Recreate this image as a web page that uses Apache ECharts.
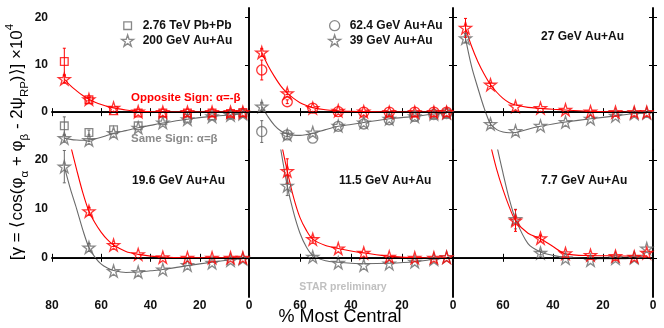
<!DOCTYPE html>
<html><head><meta charset="utf-8">
<script src="https://cdn.jsdelivr.net/npm/echarts@6/dist/echarts.min.js"></script>
<style>html,body{margin:0;padding:0;background:#fff}#c{width:664px;height:328px}</style>
</head><body><div id="c"></div>
<script>
// ---------------- data ----------------
const centrality = [75, 65, 55, 45, 35, 25, 15, 7.5, 2.5];
const xTickValues = [0, 20, 40, 60, 80];
const yTickValues = [0, 10, 20];
// panel 1: 200 GeV Au+Au (stars) and 2.76 TeV Pb+Pb (squares)
const os200 = [7.0, 2.7, 0.9, 0.1, 0.0, 0.0, 0.0, 0.0, 0.0];
const os200Err = [0.7, 0.3, 0, 0, 0, 0, 0, 0, 0];
const ss200 = [-5.5, -5.9, -4.4, -3.3, -2.2, -1.5, -0.9, -0.6, -0.35];
const ss200Err = [0.6, 0.3, 0, 0, 0, 0, 0, 0, 0];
const osLHC = [10.7, 2.6, 0.3, -0.2, -0.2, -0.2, -0.2, -0.3, -0.1];
const osLHCErr = [2.8, 0.5, 0, 0, 0, 0, 0, 0, 0];
const ssLHC = [-2.9, -4.3, -3.7, -2.9, -1.8, -1.3, -0.8, -0.5, -0.3];
const ssLHCErr = [1.9, 0.5, 0, 0, 0, 0, 0, 0, 0];
// panel 2: 39 GeV (stars) and 62.4 GeV (circles)
const os39 = [12.6, 4.0, 0.85, 0.3, 0.1, 0.0, 0.0, 0.0, 0.0];
const os39Err = [0.8, 0.3, 0, 0, 0, 0, 0, 0, 0];
const ss39 = [1.2, -4.8, -4.3, -2.9, -2.2, -1.4, -0.9, -0.4, -0.2];
const ss39Err = [0.8, 0.3, 0, 0, 0, 0, 0, 0, 0];
const os62 = [8.9, 2.2, 0.85, 0.1, 0.0, 0.0, 0.0, 0.0, 0.0];
const os62Err = [2.1, 0.4, 0, 0, 0, 0, 0, 0, 0];
const ss62 = [-4.1, -4.8, -5.5, -3.0, -2.5, -1.6, -0.9, -0.5, -0.3];
const ss62Err = [2.3, 0.4, 0, 0, 0, 0, 0, 0, 0];
// panel 3: 27 GeV
const os27 = [17.8, 5.8, 1.2, 0.85, 0.5, 0.1, 0.0, 0.0, 0.0];
const os27Err = [2.0, 0.4, 0, 0, 0, 0, 0, 0, 0];
const ss27 = [15.6, -2.5, -4.0, -2.9, -2.1, -1.4, -0.8, -0.3, -0.2];
const ss27Err = [1.0, 0.3, 0, 0, 0, 0, 0, 0, 0];
// panel 4: 19.6 GeV (first opposite-sign point is above the frame)
const os19 = [27, 9.5, 2.6, 0.7, 0.1, 0.0, 0.0, 0.0, 0.0];
const os19Err = [0, 0.8, 0.3, 0, 0, 0, 0, 0, 0];
const ss19 = [18.6, 2.1, -2.7, -2.9, -2.4, -1.5, -1.0, -0.5, -0.2];
const ss19Err = [3.3, 0.8, 0, 0, 0, 0, 0, 0, 0];
// panel 5: 11.5 GeV (first points above the frame)
const os11 = [43, 17.7, 3.8, 1.9, 1.0, 0.2, 0.0, 0.0, 0.1];
const os11Err = [0, 2.5, 0.4, 0, 0, 0, 0, 0, 0];
const ss11 = [44, 14.7, 0.2, -1.0, -1.5, -1.2, -0.8, -0.3, 0.1];
const ss11Err = [0, 2.0, 0.4, 0, 0, 0, 0, 0, 0];
// panel 6: 7.7 GeV (first points above the frame)
const os7 = [60, 24, 7.6, 4.0, 0.9, 0.55, 0.35, 0.2, 1.0];
const os7Err = [0, 0, 2.2, 0.6, 0, 0, 0, 0, 0];
const ss7 = [90, 32, 7.9, 1.0, -0.1, -0.5, -0.1, 0.0, 1.9];
const ss7Err = [0, 0, 2.0, 0.4, 0, 0, 0, 0, 0];

// fitted curves at these centralities
const fitCentrality = [75, 72.5, 70, 67.5, 65, 62.5, 60, 57.5, 55, 50, 45, 40, 35, 25, 15, 7.5, 2.5];
const fit200os = [7.0, 5.6, 4.5, 3.5, 2.7, 2.1, 1.6, 1.2, 0.9, 0.45, 0.2, 0.1, 0.05, 0, 0, 0, 0];
const fit200ss = [-5.5, -5.75, -5.9, -5.95, -5.9, -5.65, -5.3, -4.9, -4.5, -3.9, -3.3, -2.8, -2.3, -1.5, -0.9, -0.6, -0.35];
const fit39os = [12.6, 9.8, 7.5, 5.5, 4.0, 2.9, 2.0, 1.4, 0.95, 0.5, 0.3, 0.18, 0.1, 0.03, 0, 0, 0];
const fit39ss = [1.2, -1.0, -2.8, -4.0, -4.6, -4.85, -4.9, -4.75, -4.5, -3.7, -3.0, -2.6, -2.2, -1.4, -0.9, -0.4, -0.2];
const fit27os = [17.8, 13.8, 10.6, 8.0, 5.8, 4.2, 2.9, 2.0, 1.5, 1.0, 0.8, 0.6, 0.45, 0.15, 0.05, 0, 0];
const fit27ss = [15.6, 9.5, 5.0, 0.8, -2.5, -3.7, -4.2, -4.35, -4.3, -3.6, -3.0, -2.5, -2.1, -1.4, -0.8, -0.3, -0.2];
const fit19os = [28, 23, 18, 13.3, 9.5, 7.1, 5.2, 3.7, 2.6, 1.3, 0.7, 0.35, 0.15, 0.02, 0, 0, 0];
const fit19ss = [18.6, 14.0, 10.0, 5.7, 2.1, 0.1, -1.3, -2.1, -2.6, -3.0, -2.9, -2.65, -2.4, -1.6, -0.9, -0.4, -0.2];
const fit11os = [50, 40, 32, 24, 17.7, 12.3, 8.2, 5.6, 3.8, 2.5, 1.9, 1.4, 1.0, 0.3, 0.05, 0, 0];
const fit11ss = [46, 38, 30, 22, 14.7, 9.2, 5.0, 2.2, 0.5, -0.6, -0.9, -1.1, -1.2, -1.1, -0.8, -0.3, 0.0];
const fit7os = [60, 45, 35, 28, 23, 18, 13.9, 10.4, 7.6, 5.0, 3.9, 2.3, 0.8, 0.45, 0.4, 0.35, 0.4];
const fit7ss = [95, 70, 52, 40, 30, 23, 17.3, 12.0, 7.9, 2.9, 1.2, 0.5, 0.1, -0.2, -0.2, -0.1, 0.0];

// --------------- style ----------------
const FONT = 'Liberation Sans, Arial, Helvetica, sans-serif';
const RED = '#ff0000', GRAY = '#6a6a6a', BLACK = '#000';
const STAR = 'path://M100,0L122.5,69.1L195.1,69.1L136.3,111.8L158.8,180.9L100,138.2L41.2,180.9L63.7,111.8L4.9,69.1L77.5,69.1Z';
const SQUARE = 'path://M0,0M100,100M18,18L82,18L82,82L18,82Z';
const CIRCLE = 'path://M0,0M100,100M92,50A42,42,0,1,1,8,50A42,42,0,1,1,92,50Z';

const grids = [
  {left: 52, top: 8, width: 197, height: 142},
  {left: 249, top: 8, width: 204, height: 142},
  {left: 453, top: 8, width: 200, height: 142},
  {left: 52, top: 150, width: 197, height: 147},
  {left: 249, top: 150, width: 204, height: 147},
  {left: 453, top: 150, width: 200, height: 147}
];

const xAxes = [], yAxes = [];
grids.forEach((g, i) => {
  const bottomRow = i >= 3, leftCol = i % 3 === 0;
  const line = {show: true, lineStyle: {color: BLACK, width: 1.6}};
  xAxes.push({
    type: 'value', gridIndex: i, position: 'bottom', min: 0, max: 80, interval: 20, inverse: true,
    axisLine: line, splitLine: {show: false},
    axisTick: {show: true, inside: true, length: 4, lineStyle: {color: BLACK, width: 1}},
    axisLabel: {show: bottomRow, margin: 3, color: '#111', fontFamily: FONT, fontWeight: 'bold', fontSize: 12,
      formatter: v => (v === 80 && !leftCol) ? '' : String(v)}
  });
  xAxes.push({
    type: 'value', gridIndex: i, position: 'top', min: 0, max: 80, interval: 20, inverse: true,
    axisLine: line, splitLine: {show: false},
    axisTick: {show: true, inside: true, length: 4, lineStyle: {color: BLACK, width: 1}},
    axisLabel: {show: false}
  });
  yAxes.push({
    type: 'value', gridIndex: i, position: 'left', min: -8, max: 22,
    axisLine: line, splitLine: {show: false},
    axisTick: {show: true, inside: !leftCol, length: 4, customValues: yTickValues, lineStyle: {color: BLACK, width: 1}},
    axisLabel: {show: leftCol, customValues: yTickValues, margin: 4, color: '#111', fontFamily: FONT, fontWeight: 'bold', fontSize: 12}
  });
  yAxes.push({
    type: 'value', gridIndex: i, position: 'right', min: -8, max: 22,
    axisLine: line, splitLine: {show: false},
    axisTick: {show: true, inside: true, length: 4, customValues: yTickValues, lineStyle: {color: BLACK, width: 1}},
    axisLabel: {show: false}
  });
});

const series = [];
function pairs(xs, vals) { return xs.map((c, k) => [c, vals[k]]); }
function addCurve(p, vals, color, withZero) {
  const s = {
    type: 'line', xAxisIndex: 2 * p, yAxisIndex: 2 * p, data: pairs(fitCentrality, vals),
    smooth: 0.3,
    showSymbol: false, symbol: 'none', silent: true, z: 2,
    lineStyle: {color: color, width: 1.1}
  };
  if (withZero) {
    s.markLine = {silent: true, symbol: 'none', label: {show: false}, animation: false,
      lineStyle: {color: BLACK, width: 1.2, type: 'solid'}, data: [{yAxis: 0}]};
  }
  series.push(s);
}
function addMarks(p, name, vals, errs, color, sym, size) {
  const errData = centrality.map((c, k) => [c, vals[k], errs[k]]).filter(d => d[2] > 0);
  series.push({
    type: 'custom', xAxisIndex: 2 * p, yAxisIndex: 2 * p, data: errData, silent: true, z: 3,
    renderItem: (params, api) => {
      const x = api.value(0), y = api.value(1), e = api.value(2);
      const a = api.coord([x, y + e]), b = api.coord([x, y - e]);
      const st = {stroke: color, lineWidth: 1};
      return {type: 'group', children: [
        {type: 'line', shape: {x1: a[0], y1: a[1], x2: b[0], y2: b[1]}, style: st},
        {type: 'line', shape: {x1: a[0] - 1.5, y1: a[1], x2: a[0] + 1.5, y2: a[1]}, style: st},
        {type: 'line', shape: {x1: b[0] - 1.5, y1: b[1], x2: b[0] + 1.5, y2: b[1]}, style: st}
      ]};
    }
  });
  series.push({
    type: 'scatter', name: name, xAxisIndex: 2 * p, yAxisIndex: 2 * p, data: pairs(centrality, vals),
    symbol: sym, symbolSize: size, z: 4, clip: true,
    itemStyle: {color: 'rgba(0,0,0,0)', borderColor: color, borderWidth: 1.3}
  });
}

// panel 1
addCurve(0, fit200ss, GRAY, true); addCurve(0, fit200os, RED, false);
addMarks(0, '2.76 TeV Pb+Pb', ssLHC, ssLHCErr, GRAY, SQUARE, [12, 12]);
addMarks(0, '2.76 TeV Pb+Pb', osLHC, osLHCErr, RED, SQUARE, [12, 12]);
addMarks(0, '200 GeV Au+Au', ss200, ss200Err, GRAY, STAR, [12, 12]);
addMarks(0, '200 GeV Au+Au', os200, os200Err, RED, STAR, [12, 12]);
// panel 2
addCurve(1, fit39ss, GRAY, true); addCurve(1, fit39os, RED, false);
addMarks(1, '62.4 GeV Au+Au', ss62, ss62Err, GRAY, CIRCLE, [12, 12]);
addMarks(1, '62.4 GeV Au+Au', os62, os62Err, RED, CIRCLE, [12, 12]);
addMarks(1, '39 GeV Au+Au', ss39, ss39Err, GRAY, STAR, [12, 12]);
addMarks(1, '39 GeV Au+Au', os39, os39Err, RED, STAR, [12, 12]);
// panel 3
addCurve(2, fit27ss, GRAY, true); addCurve(2, fit27os, RED, false);
addMarks(2, '27 GeV Au+Au', ss27, ss27Err, GRAY, STAR, [12, 12]);
addMarks(2, '27 GeV Au+Au', os27, os27Err, RED, STAR, [12, 12]);
// panel 4
addCurve(3, fit19ss, GRAY, true); addCurve(3, fit19os, RED, false);
addMarks(3, '19.6 GeV Au+Au', ss19, ss19Err, GRAY, STAR, [12, 12]);
addMarks(3, '19.6 GeV Au+Au', os19, os19Err, RED, STAR, [12, 12]);
// panel 5
addCurve(4, fit11ss, GRAY, true); addCurve(4, fit11os, RED, false);
addMarks(4, '11.5 GeV Au+Au', ss11, ss11Err, GRAY, STAR, [12, 12]);
addMarks(4, '11.5 GeV Au+Au', os11, os11Err, RED, STAR, [12, 12]);
// panel 6
addCurve(5, fit7ss, GRAY, true); addCurve(5, fit7os, RED, false);
addMarks(5, '7.7 GeV Au+Au', ss7, ss7Err, GRAY, STAR, [12, 12]);
addMarks(5, '7.7 GeV Au+Au', os7, os7Err, RED, STAR, [12, 12]);

const legendText = {fontFamily: FONT, fontWeight: 'bold', fontSize: 12, color: '#111', padding: [0, 0, 0, 4]};
const hollowGray = {color: 'rgba(0,0,0,0)', borderColor: GRAY, borderWidth: 1.3};
function legendAt(left, top, items) {
  return {orient: 'vertical', left: left, top: top, padding: 0, itemWidth: 12, itemHeight: 12, itemGap: 2,
    selectedMode: false, textStyle: legendText,
    data: items.map(it => ({name: it[0], icon: it[1], itemStyle: hollowGray}))};
}

function label(x, y, text, color, size, align) {
  return {type: 'text', x: x, y: y, silent: true, z: 10,
    style: {text: text, fill: color, font: 'bold ' + size + 'px ' + FONT, align: align || 'left', verticalAlign: 'middle'}};
}

const option = {
  animation: false,
  backgroundColor: '#fff',
  grid: grids.map(g => Object.assign({containLabel: false}, g)),
  xAxis: xAxes,
  yAxis: yAxes,
  legend: [
    legendAt(121, 19, [['2.76 TeV Pb+Pb', SQUARE], ['200 GeV Au+Au', STAR]]),
    legendAt(328, 19, [['62.4 GeV Au+Au', CIRCLE], ['39 GeV Au+Au', STAR]])
  ],
  series: series,
  graphic: [
    label(541, 37, '27 GeV Au+Au', '#111', 12),
    label(132, 181, '19.6 GeV Au+Au', '#111', 12),
    label(339, 181, '11.5 GeV Au+Au', '#111', 12),
    label(541, 181, '7.7 GeV Au+Au', '#111', 12),
    label(131, 98, 'Opposite Sign: α=-β', RED, 11.5),
    label(131, 139, 'Same Sign: α=β', '#8a8a8a', 11.5),
    label(343, 287, 'STAR preliminary', '#c0c0c0', 10.5, 'center'),
    {type: 'text', x: 340, y: 317, silent: true,
      style: {text: '% Most Central', fill: '#000', font: '18px ' + FONT, align: 'center', verticalAlign: 'middle'}},
    {type: 'text', x: 17, y: 142, rotation: Math.PI / 2, silent: true,
      style: {
        text: '{m|[γ = ⟨cos(φ}{s|α}{m| + φ}{s|β}{m| - 2ψ}{s|RP}{m|)⟩] ×10}{p|4}',
        align: 'center', verticalAlign: 'middle',
        rich: {
          m: {fontFamily: FONT, fontSize: 17, lineHeight: 27, verticalAlign: 'middle', fill: '#000'},
          s: {fontFamily: FONT, fontSize: 11.5, lineHeight: 11, verticalAlign: 'bottom', fill: '#000'},
          p: {fontFamily: FONT, fontSize: 11.5, lineHeight: 11, verticalAlign: 'top', fill: '#000'}
        }
      }}
  ]
};

const chart = echarts.init(document.getElementById('c'), null, {renderer: 'canvas'});
chart.setOption(option);
</script>
</body></html>
